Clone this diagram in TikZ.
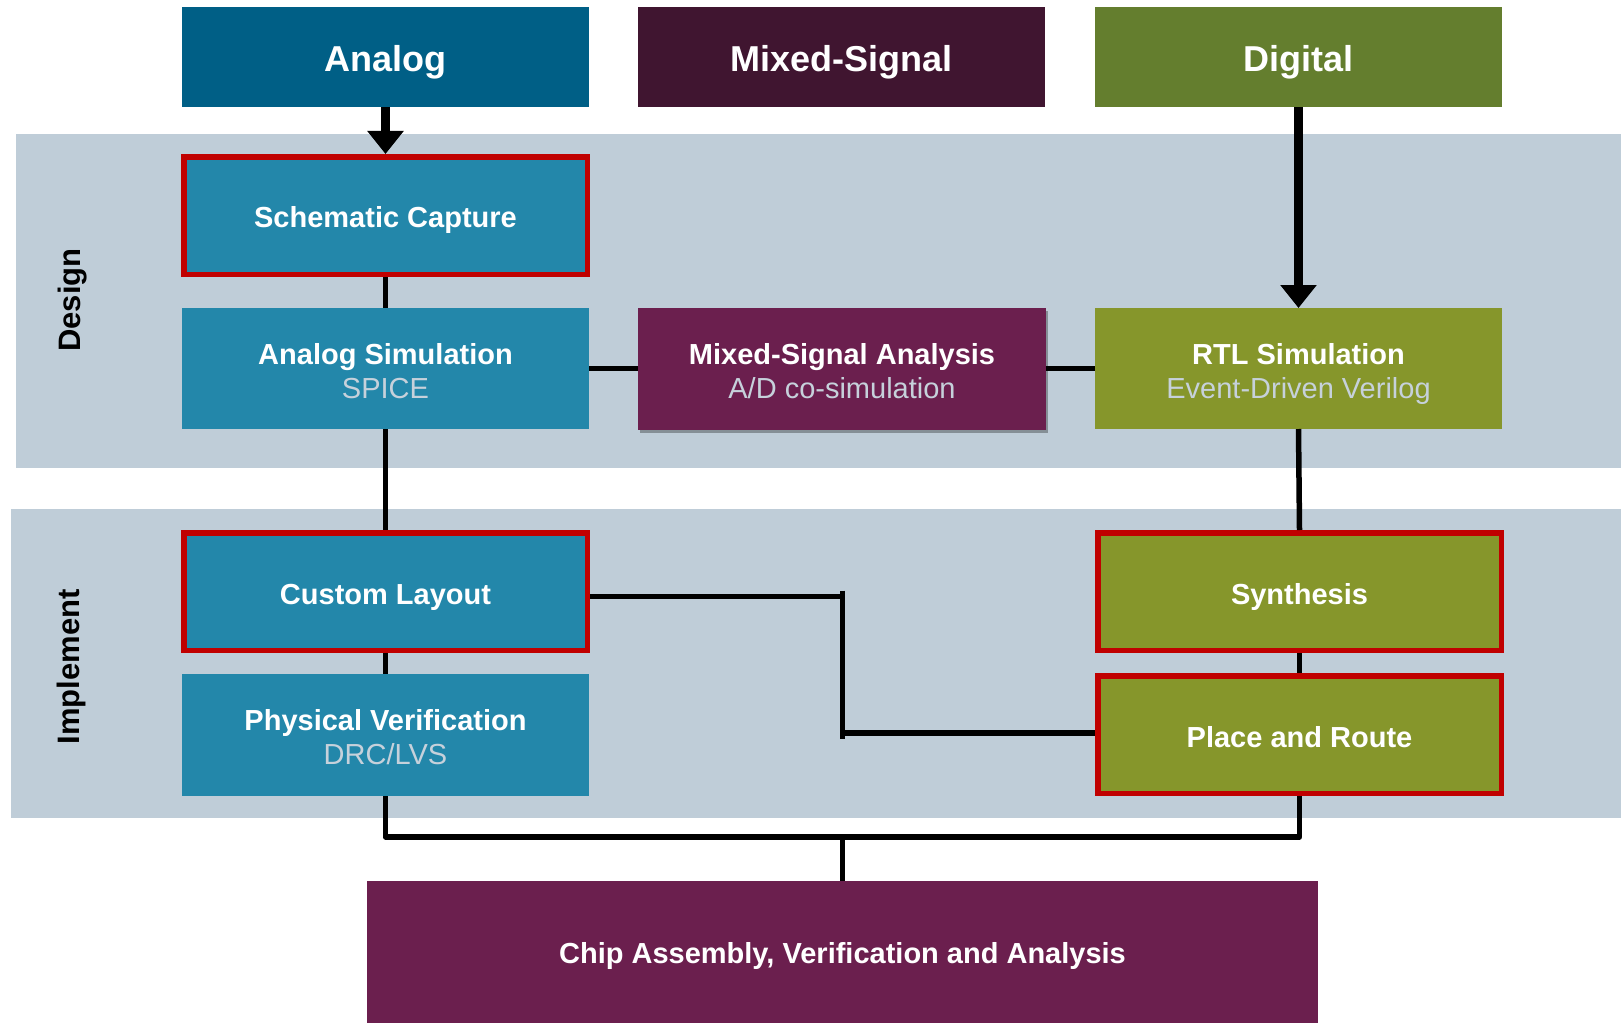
\documentclass[tikz,border=0pt]{standalone}
\usepackage{fontspec}
\setmainfont{Liberation Sans}
\usetikzlibrary{arrows.meta,shadows}
\definecolor{hdrA}{HTML}{005F86}
\definecolor{hdrM}{HTML}{401530}
\definecolor{hdrD}{HTML}{647E2E}
\definecolor{bluec}{HTML}{2387AA}
\definecolor{purplec}{HTML}{6B1F4E}
\definecolor{olivec}{HTML}{86962B}
\definecolor{bandc}{HTML}{BFCDD8}
\definecolor{redc}{HTML}{C00000}
\definecolor{subc}{HTML}{C6D1DB}
\begin{document}
\begin{tikzpicture}[x=1pt,y=-1pt,
  hdr/.style={minimum width=407pt, minimum height=100pt, inner sep=0pt, outer sep=0pt, text=white, text height=30pt, text depth=0pt, font=\fontsize{36}{40}\selectfont\bfseries},
  box/.style={minimum width=407pt, minimum height=121pt, inner sep=0pt, outer sep=0pt, text=white, align=center, font=\fontsize{29}{34}\selectfont},
  two/.style={text height=59pt, text depth=0pt},
  one/.style={text height=25pt, text depth=0pt},
  redbox/.style={box, one, draw=redc, line width=5.5pt, outer sep=2.75pt, minimum width=403.5pt, minimum height=117.5pt},
  conn/.style={line width=5.5pt, draw=black},
  arrowline/.style={line width=9pt, draw=black, -{Triangle[width=35pt,length=23pt]}},
  lane/.style={font=\fontsize{31}{36}\selectfont\bfseries, rotate=90, inner sep=0pt, text height=22pt, text depth=0pt}
]
\useasboundingbox (0,0) rectangle (1621,1022);
% bands
\fill[bandc] (15.5,134) rectangle (1621,467.5);
\fill[bandc] (11,508.5) rectangle (1621,818);
\node[lane] (dlab) at (69,300) {Design};
\node[lane] (ilab) at (68,667) {Implement};
% headers
\node[hdr, fill=hdrA] (ah) at (385.5,57) {Analog};
\node[hdr, fill=hdrM] (mh) at (841.5,57) {Mixed-Signal};
\node[hdr, fill=hdrD] (dh) at (1298.5,57) {Digital};
% design boxes
\node[redbox, fill=bluec, text height=24pt] (sc) at (385.5,215.5) {\textbf{Schematic Capture}};
\node[box, two, fill=bluec] (as) at (385.5,368.5) {\textbf{Analog Simulation}\\\textcolor{subc}{SPICE}};
\node[box, two, fill=purplec, minimum width=408pt, minimum height=122pt,
      drop shadow={shadow xshift=2pt, shadow yshift=-3pt, opacity=0.3, fill=black}] (ms) at (842,368.5) {\textbf{Mixed-Signal Analysis}\\\textcolor{subc}{A/D co-simulation}};
\node[box, two, fill=olivec] (rtl) at (1298.5,368.5) {\textbf{RTL Simulation}\\\textcolor{subc}{Event-Driven Verilog}};
% implement boxes
\node[redbox, fill=bluec] (cl) at (385.5,591.5) {\textbf{Custom Layout}};
\node[box, two, fill=bluec, minimum height=122pt] (pv) at (385.5,735) {\textbf{Physical Verification}\\\textcolor{subc}{DRC/LVS}};
\node[redbox, fill=olivec] (syn) at (1299.5,591.5) {\textbf{Synthesis}};
\node[redbox, fill=olivec] (pr) at (1299.5,734.5) {\textbf{Place and Route}};
% chip
\node[box, fill=purplec, minimum width=951pt, minimum height=144pt, text height=21pt, text depth=0pt] (ch) at (842.5,953) {\textbf{Chip Assembly, Verification and Analysis}};
% connectors
\draw[arrowline] (ah.south) -- (sc.north);
\draw[arrowline] (dh.south) -- (rtl.north);
\draw[conn] (sc.south) -- (as.north);
\draw[conn] (as.south) -- (cl.north);
\draw[conn] (cl.south) -- (pv.north);
\draw[conn] (as.east) -- (ms.west);
\draw[conn] (ms.east) -- (rtl.west);
\draw[conn] (rtl.south) -- (syn.north);
\draw[conn] (syn.south) -- (pr.north);
\coordinate (j1) at (842.5,596.5);
\coordinate (j2) at (842.5,733);
\draw[conn] (cl.east |- j1) -- (j1);
\draw[conn, shorten <=-6pt, shorten >=-6pt] (j1) -- (j2);
\draw[conn] (j2) -- (pr.west |- j2);
\coordinate (bus) at (842.5,837);
\draw[conn, line join=round] (pv.south) -- (pv.south |- bus) -- (pr.south |- bus) -- (pr.south);
\draw[conn] (bus) -- (ch.north);
\end{tikzpicture}
\end{document}
